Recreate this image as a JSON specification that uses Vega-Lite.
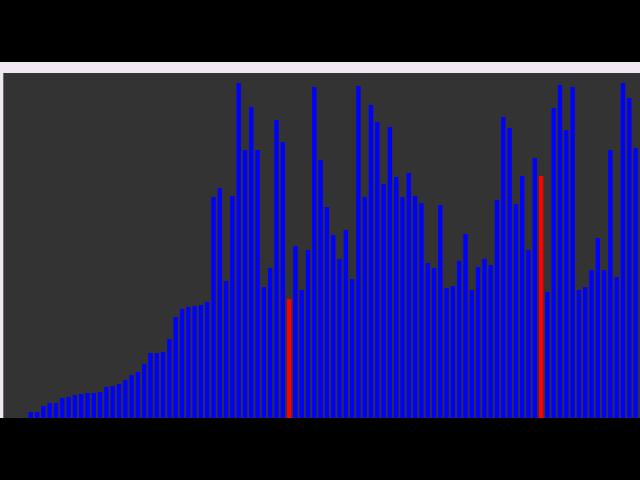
{
  "$schema": "https://vega.github.io/schema/vega-lite/v6.json",
  "width": 640,
  "height": 356,
  "autosize": {"type": "none"},
  "padding": {"left": 0, "right": 0, "top": 62, "bottom": 62},
  "background": "#000000",
  "config": {"view": {"fill": "#f0e8f0", "stroke": null}},
  "layer": [
    {
      "data": {"values": [{}]},
      "mark": {"type": "rect", "color": "#333333"},
      "encoding": {
        "x": {"datum": -0.365, "type": "quantitative", "axis": null, "scale": {"domain": [-0.889, 100.698], "nice": false, "zero": false, "padding": 0}},
        "x2": {"datum": 100.698},
        "y": {"datum": 0, "type": "quantitative", "axis": null, "scale": {"domain": [0, 356], "nice": false, "padding": 0}},
        "y2": {"datum": 345}
      }
    },
    {
      "data": {"values": [
        {"i": 0, "value": 0, "kind": "normal"},
        {"i": 1, "value": 0, "kind": "normal"},
        {"i": 2, "value": 0, "kind": "normal"},
        {"i": 3, "value": 0, "kind": "normal"},
        {"i": 4, "value": 6, "kind": "normal"},
        {"i": 5, "value": 6, "kind": "normal"},
        {"i": 6, "value": 12, "kind": "normal"},
        {"i": 7, "value": 15, "kind": "normal"},
        {"i": 8, "value": 15, "kind": "normal"},
        {"i": 9, "value": 20, "kind": "normal"},
        {"i": 10, "value": 21, "kind": "normal"},
        {"i": 11, "value": 23, "kind": "normal"},
        {"i": 12, "value": 24, "kind": "normal"},
        {"i": 13, "value": 25, "kind": "normal"},
        {"i": 14, "value": 25, "kind": "normal"},
        {"i": 15, "value": 26, "kind": "normal"},
        {"i": 16, "value": 31, "kind": "normal"},
        {"i": 17, "value": 32, "kind": "normal"},
        {"i": 18, "value": 34, "kind": "normal"},
        {"i": 19, "value": 38, "kind": "normal"},
        {"i": 20, "value": 43, "kind": "normal"},
        {"i": 21, "value": 46, "kind": "normal"},
        {"i": 22, "value": 54, "kind": "normal"},
        {"i": 23, "value": 65, "kind": "normal"},
        {"i": 24, "value": 65, "kind": "normal"},
        {"i": 25, "value": 66, "kind": "normal"},
        {"i": 26, "value": 79, "kind": "normal"},
        {"i": 27, "value": 101, "kind": "normal"},
        {"i": 28, "value": 109, "kind": "normal"},
        {"i": 29, "value": 111, "kind": "normal"},
        {"i": 30, "value": 112, "kind": "normal"},
        {"i": 31, "value": 113, "kind": "normal"},
        {"i": 32, "value": 116, "kind": "normal"},
        {"i": 33, "value": 221, "kind": "normal"},
        {"i": 34, "value": 230, "kind": "normal"},
        {"i": 35, "value": 137, "kind": "normal"},
        {"i": 36, "value": 222, "kind": "normal"},
        {"i": 37, "value": 335, "kind": "normal"},
        {"i": 38, "value": 268, "kind": "normal"},
        {"i": 39, "value": 311, "kind": "normal"},
        {"i": 40, "value": 268, "kind": "normal"},
        {"i": 41, "value": 131, "kind": "normal"},
        {"i": 42, "value": 150, "kind": "normal"},
        {"i": 43, "value": 298, "kind": "normal"},
        {"i": 44, "value": 276, "kind": "normal"},
        {"i": 45, "value": 119, "kind": "highlight"},
        {"i": 46, "value": 172, "kind": "normal"},
        {"i": 47, "value": 128, "kind": "normal"},
        {"i": 48, "value": 168, "kind": "normal"},
        {"i": 49, "value": 331, "kind": "normal"},
        {"i": 50, "value": 258, "kind": "normal"},
        {"i": 51, "value": 211, "kind": "normal"},
        {"i": 52, "value": 183, "kind": "normal"},
        {"i": 53, "value": 159, "kind": "normal"},
        {"i": 54, "value": 188, "kind": "normal"},
        {"i": 55, "value": 139, "kind": "normal"},
        {"i": 56, "value": 332, "kind": "normal"},
        {"i": 57, "value": 221, "kind": "normal"},
        {"i": 58, "value": 313, "kind": "normal"},
        {"i": 59, "value": 296, "kind": "normal"},
        {"i": 60, "value": 234, "kind": "normal"},
        {"i": 61, "value": 291, "kind": "normal"},
        {"i": 62, "value": 241, "kind": "normal"},
        {"i": 63, "value": 221, "kind": "normal"},
        {"i": 64, "value": 245, "kind": "normal"},
        {"i": 65, "value": 222, "kind": "normal"},
        {"i": 66, "value": 215, "kind": "normal"},
        {"i": 67, "value": 155, "kind": "normal"},
        {"i": 68, "value": 150, "kind": "normal"},
        {"i": 69, "value": 213, "kind": "normal"},
        {"i": 70, "value": 130, "kind": "normal"},
        {"i": 71, "value": 132, "kind": "normal"},
        {"i": 72, "value": 157, "kind": "normal"},
        {"i": 73, "value": 184, "kind": "normal"},
        {"i": 74, "value": 128, "kind": "normal"},
        {"i": 75, "value": 151, "kind": "normal"},
        {"i": 76, "value": 159, "kind": "normal"},
        {"i": 77, "value": 153, "kind": "normal"},
        {"i": 78, "value": 218, "kind": "normal"},
        {"i": 79, "value": 301, "kind": "normal"},
        {"i": 80, "value": 290, "kind": "normal"},
        {"i": 81, "value": 214, "kind": "normal"},
        {"i": 82, "value": 242, "kind": "normal"},
        {"i": 83, "value": 168, "kind": "normal"},
        {"i": 84, "value": 260, "kind": "normal"},
        {"i": 85, "value": 242, "kind": "highlight"},
        {"i": 86, "value": 126, "kind": "normal"},
        {"i": 87, "value": 310, "kind": "normal"},
        {"i": 88, "value": 333, "kind": "normal"},
        {"i": 89, "value": 288, "kind": "normal"},
        {"i": 90, "value": 331, "kind": "normal"},
        {"i": 91, "value": 128, "kind": "normal"},
        {"i": 92, "value": 131, "kind": "normal"},
        {"i": 93, "value": 148, "kind": "normal"},
        {"i": 94, "value": 180, "kind": "normal"},
        {"i": 95, "value": 148, "kind": "normal"},
        {"i": 96, "value": 268, "kind": "normal"},
        {"i": 97, "value": 141, "kind": "normal"},
        {"i": 98, "value": 335, "kind": "normal"},
        {"i": 99, "value": 320, "kind": "normal"},
        {"i": 100, "value": 270, "kind": "normal"}
      ]},
      "mark": {"type": "bar", "width": 4.4},
      "encoding": {
        "x": {"field": "i", "type": "quantitative", "axis": null, "scale": {"domain": [-0.889, 100.698], "nice": false, "zero": false, "padding": 0}},
        "y": {"field": "value", "type": "quantitative", "axis": null, "scale": {"domain": [0, 356], "nice": false, "padding": 0}},
        "color": {"field": "kind", "type": "nominal", "legend": null, "scale": {"domain": ["normal", "highlight"], "range": ["#0000ff", "#ff0000"]}}
      }
    }
  ]
}
